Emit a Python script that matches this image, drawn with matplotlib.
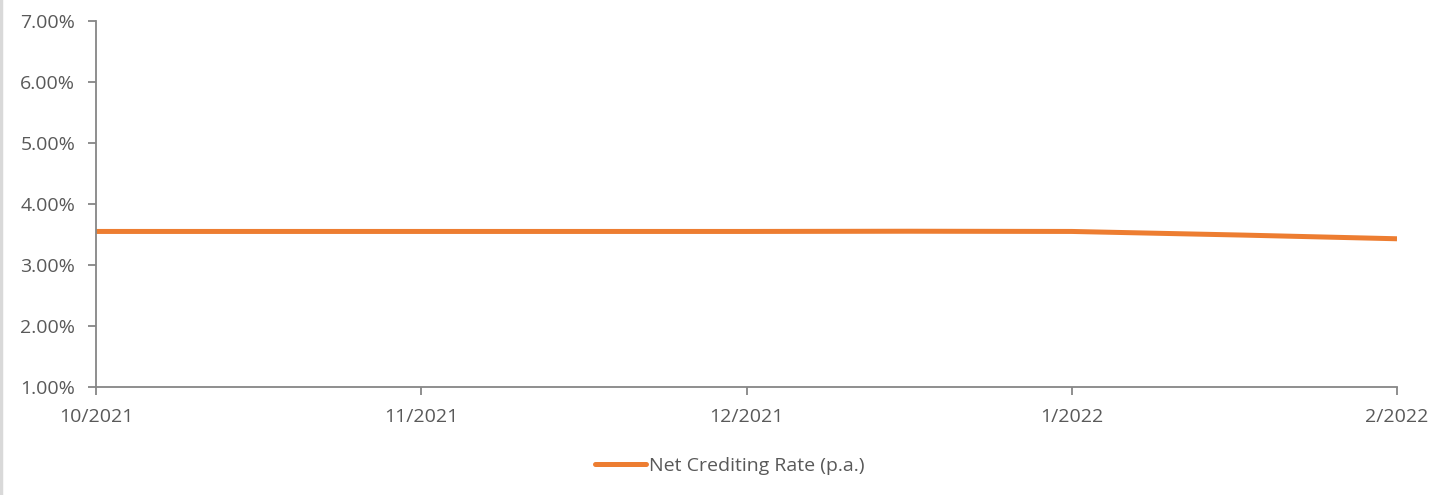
import matplotlib
matplotlib.use("Agg")
import matplotlib.pyplot as plt
from matplotlib.path import Path
from matplotlib.patches import PathPatch
from matplotlib.lines import Line2D

categories = ["10/2021", "11/2021", "12/2021", "1/2022", "2/2022"]
net_crediting_rate = [3.55, 3.55, 3.55, 3.55, 3.43]
y_ticks = [1.0, 2.0, 3.0, 4.0, 5.0, 6.0, 7.0]
series_name = "Net Crediting Rate (p.a.)"

plt.rcParams['font.family'] = ['Open Sans', 'DejaVu Sans']

TEXT = '#595959'
AXIS = '#868686'
ORANGE = '#ED7D31'

fig = plt.figure(figsize=(14.45, 4.95), dpi=100)
ax = fig.add_axes([96/1445, 1 - 387/495, (1397-96)/1445, (387-21)/495])

xs = list(range(len(categories)))
ys = net_crediting_rate

# Smoothed line (low-tension cubic Bezier through the data points)
verts = [(xs[0], ys[0])]
codes = [Path.MOVETO]
n = len(xs)
t = 0.06
for i in range(n - 1):
    p0 = (xs[max(i-1, 0)], ys[max(i-1, 0)])
    p1 = (xs[i], ys[i])
    p2 = (xs[i+1], ys[i+1])
    p3 = (xs[min(i+2, n-1)], ys[min(i+2, n-1)])
    c1 = (p1[0] + (p2[0]-p0[0])*t, p1[1] + (p2[1]-p0[1])*t)
    c2 = (p2[0] - (p3[0]-p1[0])*t, p2[1] - (p3[1]-p1[1])*t)
    verts += [c1, c2, p2]
    codes += [Path.CURVE4, Path.CURVE4, Path.CURVE4]
patch = PathPatch(Path(verts, codes), facecolor='none', edgecolor=ORANGE,
                  lw=3.6, capstyle='butt', joinstyle='round')
ax.add_patch(patch)

ax.set_xlim(0, len(categories) - 1)
ax.set_ylim(1.0, 7.0)
ax.set_xticks(xs)
ax.set_xticklabels(categories)
ax.set_yticks(y_ticks)
ax.set_yticklabels([f"{v:.2f}%" for v in y_ticks])

for s in ['top', 'right']:
    ax.spines[s].set_visible(False)
for s in ['left', 'bottom']:
    ax.spines[s].set_color(AXIS)
    ax.spines[s].set_linewidth(1.3)
ax.tick_params(axis='both', colors=AXIS, labelcolor=TEXT, labelsize=14,
               length=6, width=1.3, direction='out')
ax.tick_params(axis='y', pad=9)
ax.tick_params(axis='x', pad=9)

handle = Line2D([], [], color=ORANGE, lw=3.6, solid_capstyle='round')
fig.legend([handle], [series_name], loc='center', bbox_to_anchor=(0.505, 1 - 466/495),
           frameon=False, fontsize=14, labelcolor=TEXT, handlelength=2.6,
           handletextpad=0.15)

# light gray border on the left edge
fig.add_artist(Line2D([0.001, 0.001], [0, 1], transform=fig.transFigure,
                      color='#d9d9d9', lw=2.5))

fig.savefig("out.png", dpi=100, facecolor='white')
